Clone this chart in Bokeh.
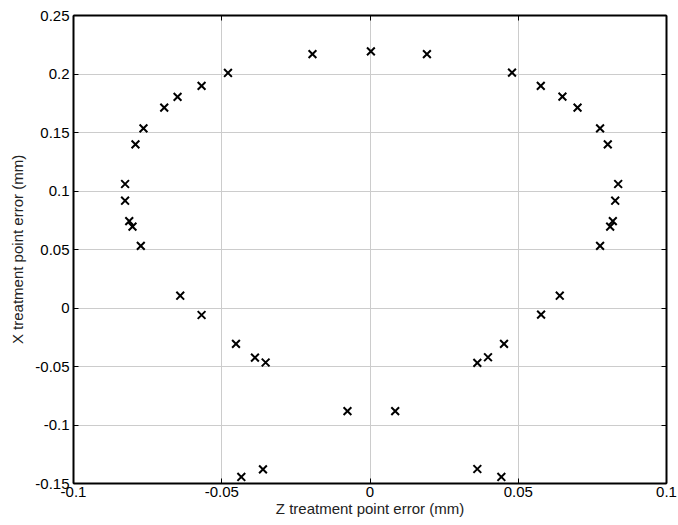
from bokeh.plotting import figure
from bokeh.models import LinearAxis, Range1d, FixedTicker
from bokeh.embed import file_html
from bokeh.resources import INLINE

# Z treatment point error (mm)
z_err = [-0.0194, -0.0479, -0.0568, -0.0649, -0.0694, -0.0764, -0.0791, -0.0826, -0.0826,
         -0.0812, -0.0801, -0.0773, -0.0640, -0.0568, -0.0452, -0.0388, -0.0352, -0.0434,
         -0.0361, -0.0076, 0.0085, 0.0362, 0.0398, 0.0452, 0.0577, 0.0640, 0.0362, 0.0443,
         0.0003, 0.0192, 0.0479, 0.0576, 0.0649, 0.0700, 0.0776, 0.0802, 0.0837, 0.0827,
         0.0819, 0.0810, 0.0776]
# X treatment point error (mm)
x_err = [0.2170, 0.2009, 0.1898, 0.1804, 0.1713, 0.1535, 0.1398, 0.1060, 0.0917,
         0.0742, 0.0696, 0.0531, 0.0105, -0.0060, -0.0307, -0.0424, -0.0466, -0.1444,
         -0.1379, -0.0881, -0.0881, -0.0469, -0.0421, -0.0307, -0.0057, 0.0105, -0.1376, -0.1444,
         0.2193, 0.2170, 0.2012, 0.1898, 0.1807, 0.1713, 0.1535, 0.1398, 0.1060, 0.0917,
         0.0742, 0.0696, 0.0531]

x_ticks = [-0.1, -0.05, 0, 0.05, 0.1]
y_ticks = [-0.15, -0.1, -0.05, 0, 0.05, 0.1, 0.15, 0.2, 0.25]
x_tick_labels = {-0.1: "-0.1", -0.05: "-0.05", 0: "0", 0.05: "0.05", 0.1: "0.1"}
y_tick_labels = {-0.15: "-0.15", -0.1: "-0.1", -0.05: "-0.05", 0: "0", 0.05: "0.05",
                 0.1: "0.1", 0.15: "0.15", 0.2: "0.2", 0.25: "0.25"}

FONT = "Liberation Sans"

p = figure(width=678, height=525, output_backend="svg", toolbar_location=None,
           x_range=Range1d(-0.1, 0.1), y_range=Range1d(-0.15, 0.25),
           min_border_left=73, min_border_right=12, min_border_top=15, min_border_bottom=42,
           background_fill_color="white", border_fill_color="white")

p.outline_line_color = "black"
p.outline_line_width = 1

for ax in p.xaxis:
    ax.ticker = FixedTicker(ticks=x_ticks)
    ax.major_label_overrides = x_tick_labels
for ax in p.yaxis:
    ax.ticker = FixedTicker(ticks=y_ticks)
    ax.major_label_overrides = y_tick_labels

p.xaxis.axis_label = "Z treatment point error (mm)"
p.yaxis.axis_label = "X treatment point error (mm)"

for ax in list(p.xaxis) + list(p.yaxis):
    ax.major_tick_in = 5
    ax.major_tick_out = 0
    ax.minor_tick_in = 0
    ax.minor_tick_out = 0
    ax.axis_line_color = "black"
    ax.axis_line_width = 2
    ax.major_tick_line_color = "black"
    ax.major_label_text_font = FONT
    ax.major_label_text_font_size = "15px"
    ax.major_label_text_color = "black"
    ax.axis_label_text_font = FONT
    ax.axis_label_text_font_size = "15px"
    ax.axis_label_text_font_style = "normal"
    ax.axis_label_text_color = "#222222"

p.xaxis.major_label_standoff = 3
p.xaxis.axis_label_standoff = 0
p.yaxis.major_label_standoff = 4
p.yaxis.axis_label_standoff = 6

# top and right axes with ticks only
blank_x = {t: "" for t in x_ticks}
blank_y = {t: "" for t in y_ticks}
top = LinearAxis(ticker=FixedTicker(ticks=x_ticks), major_label_overrides=blank_x,
                 major_tick_in=5, major_tick_out=0, minor_tick_in=0, minor_tick_out=0,
                 major_label_standoff=0, axis_line_color="black", axis_line_width=2)
right = LinearAxis(ticker=FixedTicker(ticks=y_ticks), major_label_overrides=blank_y,
                   major_tick_in=5, major_tick_out=0, minor_tick_in=0, minor_tick_out=0,
                   major_label_standoff=0, axis_line_color="black", axis_line_width=2)
p.add_layout(top, "above")
p.add_layout(right, "right")

p.xgrid.ticker = FixedTicker(ticks=x_ticks)
p.ygrid.ticker = FixedTicker(ticks=y_ticks)
p.grid.grid_line_color = "#cccccc"
p.grid.grid_line_width = 1

p.scatter(z_err, x_err, marker="x", size=11, line_color="black", line_width=2)

open("out.html", "w").write(file_html(p, INLINE))
